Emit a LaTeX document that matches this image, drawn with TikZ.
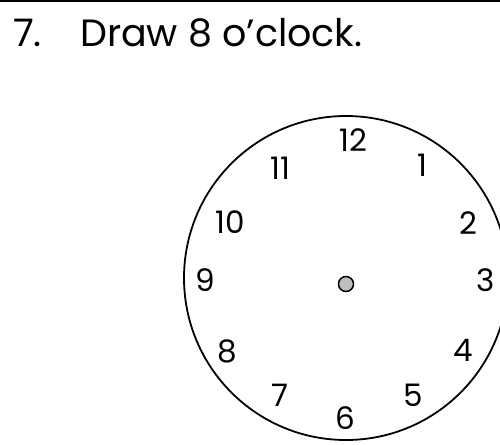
\documentclass[tikz,border=0pt]{standalone}
\usepackage{fontspec}
\setmainfont{Poppins}
\begin{document}
\begin{tikzpicture}[x=1pt, y=-1pt,
    num/.style={font=\fontsize{31}{31}\selectfont\rmfamily, inner sep=0pt},
    title/.style={font=\fontsize{38}{40}\selectfont\rmfamily, inner sep=0pt, anchor=base west}]

    % Page area
    \clip (0,0) rectangle (500,444);
    \fill[white] (0,0) rectangle (500,444);
    \draw[line width=3.5pt] (0,0.5) -- (500,0.5);

    % Question
    \node[title] (qnum) at (13,46) {7.};
    \node[title] (qtext) at (80,46) {Draw 8 o\textquoteright clock.};

    % Clock face
    \coordinate (c) at (346,278);
    \draw[line width=1.8pt] (c) circle (162);
    \node[draw, circle, line width=1.5pt, fill=gray!50, minimum size=15pt, inner sep=0pt] (hub) at (346,284) {};

    % Hour numbers
    \node[num] (n12) at (353,140) {12};
    \node[num] (n1) at (422,165) {1};
    \node[num] (n2) at (468,223) {2};
    \node[num] (n3) at (486,280) {3};
    \node[num] (n4) at (463,350) {4};
    \node[num] (n5) at (413,395) {5};
    \node[num] (n6) at (345,418) {6};
    \node[num] (n7) at (280,395) {7};
    \node[num] (n8) at (227,351) {8};
    \node[num] (n9) at (205,280) {9};
    \node[num] (n10) at (230,222) {10};
    \node[num] (n11) at (280,168) {11};
\end{tikzpicture}
\end{document}
